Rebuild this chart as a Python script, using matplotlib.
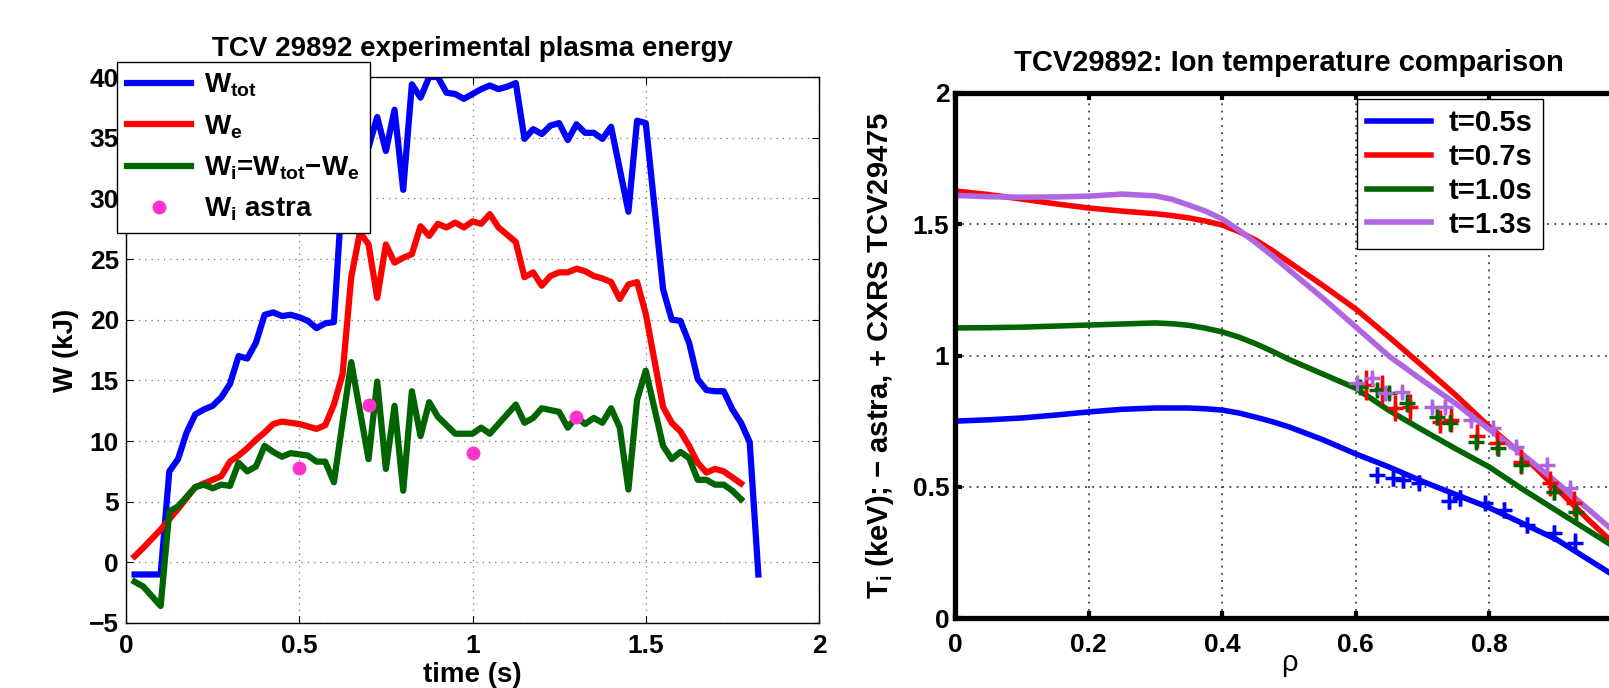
import numpy as np
import matplotlib
matplotlib.use("Agg")
import matplotlib.pyplot as plt

plt.rcParams['font.family'] = ['Liberation Sans', 'DejaVu Sans']
plt.rcParams['font.weight'] = 'bold'
plt.rcParams['mathtext.fontset'] = 'custom'
plt.rcParams['mathtext.rm'] = 'Liberation Sans:bold'
plt.rcParams['mathtext.it'] = 'Liberation Sans:bold'
plt.rcParams['mathtext.bf'] = 'Liberation Sans:bold'
plt.rcParams['axes.unicode_minus'] = True

# ---- left panel: plasma energy (kJ) vs time (s) ----
t_tot = [0.025, 0.1, 0.125, 0.15, 0.175, 0.2, 0.225, 0.25, 0.275, 0.3, 0.325, 0.35,
         0.375, 0.4, 0.425, 0.45, 0.475, 0.5, 0.525, 0.55, 0.575, 0.6, 0.625, 0.65,
         0.675, 0.7, 0.725, 0.75, 0.775, 0.8, 0.825, 0.85, 0.875, 0.9, 0.925, 0.95,
         0.975, 1.0, 1.025, 1.05, 1.075, 1.1, 1.125, 1.15, 1.175, 1.2, 1.225, 1.25,
         1.275, 1.3, 1.325, 1.35, 1.375, 1.4, 1.45, 1.475, 1.5, 1.55, 1.575, 1.6,
         1.625, 1.65, 1.675, 1.7, 1.725, 1.75, 1.775, 1.8, 1.825]
w_tot = [-1.0, -1.0, 7.5, 8.5, 10.7, 12.2, 12.6, 12.9, 13.6, 14.7, 17.0, 16.8,
         18.1, 20.4, 20.6, 20.3, 20.4, 20.2, 19.9, 19.3, 19.7, 19.8, 31.0, 36.0,
         34.0, 34.2, 36.7, 33.9, 37.3, 30.7, 39.4, 38.3, 40.0, 40.0, 38.7, 38.6,
         38.2, 38.6, 39.0, 39.3, 39.0, 39.2, 39.5, 34.9, 35.7, 35.3, 36.0, 36.2,
         34.8, 36.1, 35.4, 35.4, 34.9, 35.9, 28.9, 36.4, 36.2, 22.5, 20.0, 19.9,
         18.1, 15.1, 14.2, 14.1, 14.1, 12.6, 11.5, 9.9, -1.0]

t_e = [0.025, 0.05, 0.1, 0.15, 0.2, 0.225, 0.25, 0.275, 0.3, 0.325, 0.35, 0.375,
       0.4, 0.425, 0.45, 0.5, 0.55, 0.575, 0.6, 0.625, 0.65, 0.675, 0.7, 0.725,
       0.75, 0.775, 0.8, 0.825, 0.85, 0.875, 0.9, 0.925, 0.95, 0.975, 1.0, 1.025,
       1.05, 1.075, 1.125, 1.15, 1.175, 1.2, 1.225, 1.25, 1.275, 1.3, 1.325, 1.35,
       1.375, 1.4, 1.425, 1.45, 1.475, 1.5, 1.55, 1.575, 1.6, 1.625, 1.65, 1.675,
       1.7, 1.725, 1.75, 1.775]
w_e = [0.5, 1.2, 2.7, 4.4, 6.2, 6.5, 6.8, 7.1, 8.3, 8.8, 9.4, 10.1,
       10.7, 11.4, 11.6, 11.4, 11.0, 11.3, 13.0, 15.5, 23.5, 27.2, 26.2, 21.8,
       26.2, 24.7, 25.1, 25.4, 27.7, 26.9, 27.9, 27.6, 28.0, 27.6, 28.1, 27.9,
       28.7, 27.6, 26.4, 23.5, 23.9, 22.8, 23.6, 23.9, 23.9, 24.2, 24.0, 23.6,
       23.4, 23.1, 21.7, 22.9, 23.1, 20.5, 12.8, 11.5, 10.8, 9.6, 8.2, 7.4,
       7.7, 7.5, 7.0, 6.5]

t_i = [0.025, 0.05, 0.1, 0.125, 0.15, 0.2, 0.225, 0.25, 0.275, 0.3, 0.325, 0.35,
       0.375, 0.4, 0.425, 0.45, 0.475, 0.5, 0.525, 0.55, 0.575, 0.6, 0.65, 0.7,
       0.725, 0.75, 0.775, 0.8, 0.825, 0.85, 0.875, 0.9, 0.95, 1.0, 1.025, 1.05,
       1.125, 1.15, 1.175, 1.2, 1.25, 1.275, 1.3, 1.325, 1.35, 1.375, 1.4, 1.425,
       1.45, 1.475, 1.5, 1.55, 1.575, 1.6, 1.625, 1.65, 1.675, 1.7, 1.725, 1.75,
       1.775]
w_i = [-1.6, -2.0, -3.6, 4.2, 4.6, 6.2, 6.4, 6.1, 6.4, 6.3, 8.2, 7.5,
       7.9, 9.6, 9.1, 8.7, 9.0, 8.9, 8.8, 8.3, 8.3, 6.6, 16.5, 8.5,
       14.9, 7.7, 12.9, 5.9, 14.1, 10.4, 13.2, 12.0, 10.6, 10.6, 11.1, 10.6,
       13.0, 11.5, 11.9, 12.7, 12.4, 11.1, 12.0, 11.4, 11.9, 11.5, 12.7, 11.1,
       6.0, 13.4, 15.8, 9.6, 8.5, 9.1, 8.6, 6.8, 6.8, 6.4, 6.4, 5.9,
       5.2]

t_astra = [0.5, 0.7, 1.0, 1.3]
w_astra = [7.8, 13.0, 9.0, 12.0]

# ---- right panel: ion temperature profiles (keV) vs rho ----
rho = [0, 0.05, 0.1, 0.15, 0.2, 0.25, 0.3, 0.325, 0.35, 0.375, 0.4, 0.425, 0.45,
       0.475, 0.5, 0.55, 0.6, 0.65, 0.7, 0.75, 0.8, 0.85, 0.9, 0.95, 1.0]
ti_05 = [0.75, 0.755, 0.762, 0.773, 0.785, 0.795, 0.80, 0.80, 0.80, 0.797, 0.792,
         0.781, 0.765, 0.748, 0.728, 0.68, 0.625, 0.575, 0.52, 0.47, 0.42, 0.36,
         0.30, 0.22, 0.14]
ti_07 = [1.627, 1.613, 1.596, 1.578, 1.562, 1.55, 1.54, 1.533, 1.524, 1.512, 1.497,
         1.472, 1.44, 1.40, 1.356, 1.268, 1.177, 1.07, 0.96, 0.848, 0.728, 0.62,
         0.495, 0.37, 0.25]
ti_10 = [1.105, 1.106, 1.108, 1.112, 1.116, 1.12, 1.124, 1.121, 1.115, 1.104, 1.09,
         1.07, 1.045, 1.016, 0.985, 0.93, 0.875, 0.79, 0.716, 0.644, 0.575, 0.49,
         0.41, 0.33, 0.25]
ti_13 = [1.61, 1.605, 1.603, 1.604, 1.607, 1.615, 1.608, 1.595, 1.573, 1.55, 1.52,
         1.478, 1.43, 1.38, 1.326, 1.22, 1.109, 0.997, 0.905, 0.816, 0.718, 0.623,
         0.518, 0.41, 0.30]

# CXRS measurements (TCV29475)
cx_rho_05 = [0.632, 0.656, 0.671, 0.695, 0.74, 0.756, 0.793, 0.822, 0.857, 0.897, 0.928]
cx_ti_05 = [0.545, 0.532, 0.526, 0.516, 0.447, 0.456, 0.44, 0.411, 0.354, 0.325, 0.287]
cx_err_05 = [0.03, 0.03, 0.03, 0.03, 0.03, 0.03, 0.025, 0.03, 0.03, 0.03, 0.035]
cx_rho_07 = [0.616, 0.639, 0.659, 0.681, 0.726, 0.742, 0.781, 0.811, 0.847, 0.891, 0.926]
cx_ti_07 = [0.888, 0.871, 0.80, 0.805, 0.748, 0.754, 0.693, 0.665, 0.596, 0.513, 0.437]
cx_err_07 = [0.057, 0.054, 0.05, 0.05, 0.045, 0.045, 0.045, 0.045, 0.048, 0.048, 0.048]
cx_rho_10 = [0.607, 0.632, 0.649, 0.676, 0.721, 0.741, 0.78, 0.813, 0.848, 0.896, 0.93]
cx_ti_10 = [0.881, 0.869, 0.858, 0.82, 0.767, 0.744, 0.672, 0.646, 0.583, 0.481, 0.405]
cx_err_10 = [0.025, 0.025, 0.025, 0.035, 0.03, 0.03, 0.025, 0.03, 0.03, 0.03, 0.035]
cx_rho_13 = [0.602, 0.625, 0.644, 0.669, 0.714, 0.734, 0.772, 0.805, 0.84, 0.886, 0.921]
cx_ti_13 = [0.894, 0.913, 0.856, 0.862, 0.805, 0.805, 0.754, 0.723, 0.653, 0.583, 0.494]
cx_err_13 = [0.02, 0.02, 0.02, 0.02, 0.02, 0.02, 0.02, 0.02, 0.02, 0.02, 0.02]

c_blue = '#0000ff'
c_red = '#ff0000'
c_green = '#006400'
c_purple = '#b066e0'
c_pink = '#ff33cc'

W, H = 1609, 688
fig = plt.figure(figsize=(W / 100, H / 100), dpi=100)

# ======== left axes ========
ax1 = fig.add_axes([126 / W, 1 - 623 / H, (819 - 126) / W, (623 - 77) / H])
ax1.plot(t_tot, w_tot, color=c_blue, lw=4.5, label=r'W$_{tot}$')
ax1.plot(t_e, w_e, color=c_red, lw=4.5, label=r'W$_{e}$')
ax1.plot(t_i, w_i, color=c_green, lw=4.5, label=r'W$_{i}$=W$_{tot}$$-$W$_{e}$')
ax1.plot(t_astra, w_astra, 'o', color=c_pink, ms=9, mec=c_pink, label=r'W$_{i}$ astra')
ax1.set_xlim(0, 2)
ax1.set_ylim(-5, 40)
ax1.set_xticks([0, 0.5, 1, 1.5, 2])
ax1.set_xticklabels(['0', '0.5', '1', '1.5', '2'])
ax1.set_yticks(np.arange(-5, 41, 5))
ax1.grid(True, color='0.45', linestyle=(0, (1, 4)), linewidth=0.9)
ax1.tick_params(direction='in', top=True, right=True, labelsize=19, length=5)
ax1.tick_params(axis='x', pad=8)
ax1.tick_params(axis='y', pad=5)
for s in ax1.spines.values():
    s.set_linewidth(1.0)
ax1.set_title('TCV 29892 experimental plasma energy', fontsize=20, fontweight='bold', pad=15)
ax1.set_xlabel('time (s)', fontsize=20, fontweight='bold', labelpad=3)
ax1.set_ylabel('W (kJ)', fontsize=20, fontweight='bold', labelpad=7)
leg1 = ax1.legend(loc='upper left', bbox_to_anchor=(117 / W, 1 - 62 / H),
                  bbox_transform=fig.transFigure, borderaxespad=0, fontsize=20,
                  fancybox=False, edgecolor='black', framealpha=1,
                  handlelength=2.3, handletextpad=0.5, labelspacing=0.5,
                  borderpad=0.35, numpoints=1)
leg1.get_frame().set_linewidth(1.0)

# ======== right axes ========
ax2 = fig.add_axes([955 / W, 1 - 618 / H, 668 / W, (618 - 93) / H])
ax2.plot(rho, ti_05, color=c_blue, lw=4, label='t=0.5s')
ax2.plot(rho, ti_07, color=c_red, lw=4, label='t=0.7s')
ax2.plot(rho, ti_10, color=c_green, lw=4, label='t=1.0s')
ax2.plot(rho, ti_13, color=c_purple, lw=4, label='t=1.3s')
for r, v, e, c in [(cx_rho_05, cx_ti_05, cx_err_05, c_blue),
                   (cx_rho_07, cx_ti_07, cx_err_07, c_red),
                   (cx_rho_10, cx_ti_10, cx_err_10, c_green),
                   (cx_rho_13, cx_ti_13, cx_err_13, c_purple)]:
    ax2.errorbar(r, v, yerr=e, fmt='+', color=c, ms=11, mew=2.5, elinewidth=2.5, capsize=0)
ax2.set_xlim(0, 1)
ax2.set_ylim(0, 2)
ax2.set_xticks([0, 0.2, 0.4, 0.6, 0.8])
ax2.set_xticklabels(['0', '0.2', '0.4', '0.6', '0.8'])
ax2.set_yticks([0, 0.5, 1, 1.5, 2])
ax2.set_yticklabels(['0', '0.5', '1', '1.5', '2'])
ax2.grid(True, color='0.25', linestyle=(0, (1, 3)), linewidth=1.3)
ax2.tick_params(direction='in', top=True, right=True, labelsize=19, length=5, width=3)
ax2.tick_params(axis='x', pad=11)
ax2.tick_params(axis='y', pad=4)
for s in ax2.spines.values():
    s.set_linewidth(3.8)
ax2.set_title('TCV29892: Ion temperature comparison', fontsize=21, fontweight='bold', pad=16)
ax2.set_xlabel('ρ', fontsize=21, fontweight='normal', labelpad=-6)
ax2.set_ylabel(r'T$_{i}$ (keV); $-$ astra, + CXRS TCV29475', fontsize=21,
               fontweight='bold', labelpad=12)
leg2 = ax2.legend(loc='upper left', bbox_to_anchor=(1357 / W, 1 - 99 / H),
                  bbox_transform=fig.transFigure, borderaxespad=0, fontsize=21,
                  fancybox=False, edgecolor='black', framealpha=1,
                  handlelength=2.2, handletextpad=0.6, labelspacing=0.2,
                  borderpad=0.35)
leg2.get_frame().set_linewidth(1.0)

fig.savefig('out.png', dpi=100)
